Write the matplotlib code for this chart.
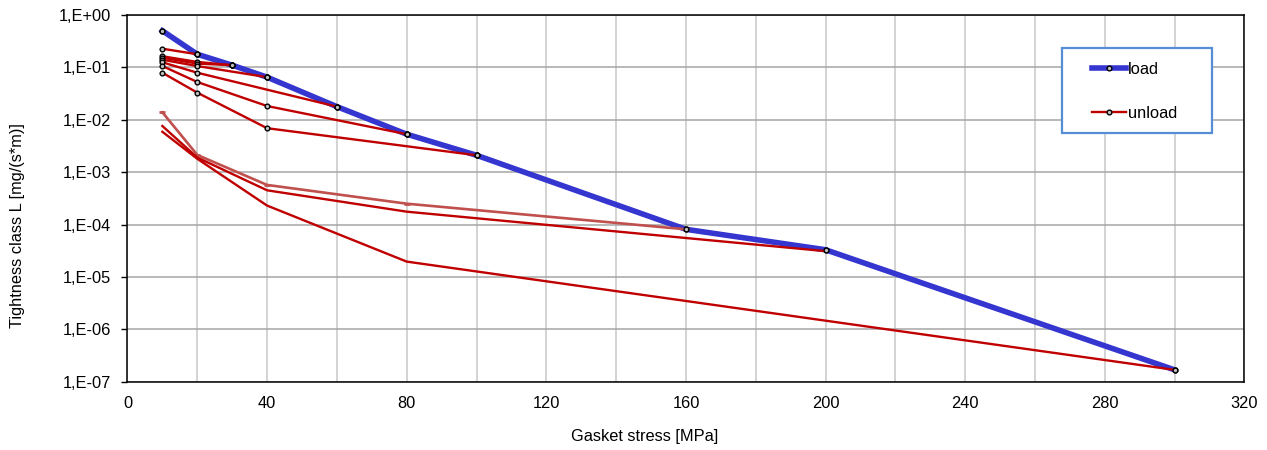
import matplotlib
matplotlib.use("Agg")
import matplotlib.pyplot as plt
import matplotlib.ticker as mticker
from matplotlib.lines import Line2D
from matplotlib.patches import Rectangle
import numpy as np

plt.rcParams['font.family'] = ['Liberation Sans', 'DejaVu Sans']

# ---------------- data ----------------
load_x = [10, 20, 30, 40, 60, 80, 100, 160, 200, 300]
load_y = [0.5, 0.178, 0.11, 0.065, 0.0178, 0.0053, 0.0021, 8.1e-5, 3.3e-5, 1.68e-7]

unload_20_x = [20, 10]
unload_20_y = [0.178, 0.227]
unload_30_x = [30, 20, 10]
unload_30_y = [0.11, 0.127, 0.163]
unload_30b_x = [30, 20, 10]
unload_30b_y = [0.11, 0.118, 0.153]
unload_40_x = [40, 20, 10]
unload_40_y = [0.065, 0.106, 0.140]
unload_60_x = [60, 20, 10]
unload_60_y = [0.0178, 0.079, 0.125]
unload_80_x = [80, 40, 20, 10]
unload_80_y = [0.0053, 0.0183, 0.0526, 0.106]
unload_100_x = [100, 40, 20, 10]
unload_100_y = [0.0021, 0.0069, 0.0329, 0.079]

unload_160_x = [160, 80, 40, 20, 10]
unload_160_y = [8.1e-5, 2.5e-4, 5.7e-4, 2.13e-3, 1.39e-2]
unload_200_x = [200, 80, 40, 20, 10]
unload_200_y = [3.1e-5, 1.76e-4, 4.5e-4, 1.9e-3, 7.6e-3]
unload_300_x = [300, 80, 40, 20, 10]
unload_300_y = [1.68e-7, 1.96e-5, 2.3e-4, 1.8e-3, 5.9e-3]

x_ticks = [0, 40, 80, 120, 160, 200, 240, 280, 320]
y_exponents = [0, -1, -2, -3, -4, -5, -6, -7]

x_label = "Gasket stress [MPa]"
y_label = "Tightness class L [mg/(s*m)]"
legend_labels = ["load", "unload"]

# ---------------- style ----------------
BLUE = '#3535D0'
RED = '#C00000'
LRED = '#C0504D'
FS = 11.8

fig = plt.figure(figsize=(12.67, 4.5), dpi=100)
ax = fig.add_axes([0.1006, 0.1518, 0.8816, 0.8149])

mk = dict(marker='o', ms=3.4, mfc='#C0C0C0', mec='black', mew=1.0)

ax.plot(load_x, load_y, color=BLUE, lw=4.0, zorder=3, **mk)

marked = [(unload_20_x, unload_20_y), (unload_30_x, unload_30_y),
          (unload_30b_x, unload_30b_y), (unload_40_x, unload_40_y),
          (unload_60_x, unload_60_y), (unload_80_x, unload_80_y),
          (unload_100_x, unload_100_y)]
for xs, ys in marked:
    ax.plot(xs, ys, color=RED, lw=1.7, zorder=4, **mk)

ax.plot(unload_160_x, unload_160_y, color=LRED, lw=1.9, zorder=4,
        marker='_', ms=5, mew=2)
ax.plot(unload_200_x, unload_200_y, color=RED, lw=1.7, zorder=4)
ax.plot(unload_300_x, unload_300_y, color=RED, lw=1.7, zorder=4)
ax.plot(load_x, load_y, ls='none', zorder=5, **mk)

ax.set_yscale('log')
ax.set_xlim(0, 320)
ax.set_ylim(1e-7, 1.0)

ax.set_xticks(x_ticks)
ax.set_xticks(np.arange(20, 320, 40), minor=True)
ax.set_yticks([10.0 ** e for e in y_exponents])
ax.yaxis.set_minor_locator(mticker.NullLocator())
ax.yaxis.set_major_formatter(mticker.FuncFormatter(
    lambda v, p: "1,E{:+03d}".format(int(round(np.log10(v))))))

ax.tick_params(axis='x', which='both', length=0, pad=10, labelsize=FS)
ax.tick_params(axis='y', which='major', length=4, width=1.0, pad=8,
               labelsize=FS, direction='out')

ax.grid(axis='x', which='both', color='#C8C8C8', lw=1.1, zorder=0)
ax.grid(axis='y', which='major', color='#A6A6A6', lw=1.1, zorder=0)
ax.set_axisbelow(True)

for s in ax.spines.values():
    s.set_color('black')
    s.set_linewidth(1.1)

ax.set_xlabel(x_label, fontsize=FS)
ax.xaxis.set_label_coords(0.463, -0.128)
ax.set_ylabel(y_label, fontsize=FS)
ax.yaxis.label.set_va('center')
ax.yaxis.set_label_coords(-0.098, 0.427)

# legend box
box = Rectangle((0.8366, 0.678), 0.1343, 0.232, transform=ax.transAxes,
                facecolor='white', edgecolor='#558ED5', lw=1.6, zorder=6)
ax.add_patch(box)
handles = [Line2D([], [], color=BLUE, lw=4.0, **mk),
           Line2D([], [], color=RED, lw=1.7, **mk)]
leg = ax.legend(handles, legend_labels, loc='center left',
                bbox_to_anchor=(0.8635, 0.792), frameon=False, fontsize=FS,
                borderpad=0, borderaxespad=0, handlelength=2.1,
                handletextpad=0.08, labelspacing=1.75, numpoints=1)
leg.set_zorder(7)

fig.savefig('out.png', dpi=100)
